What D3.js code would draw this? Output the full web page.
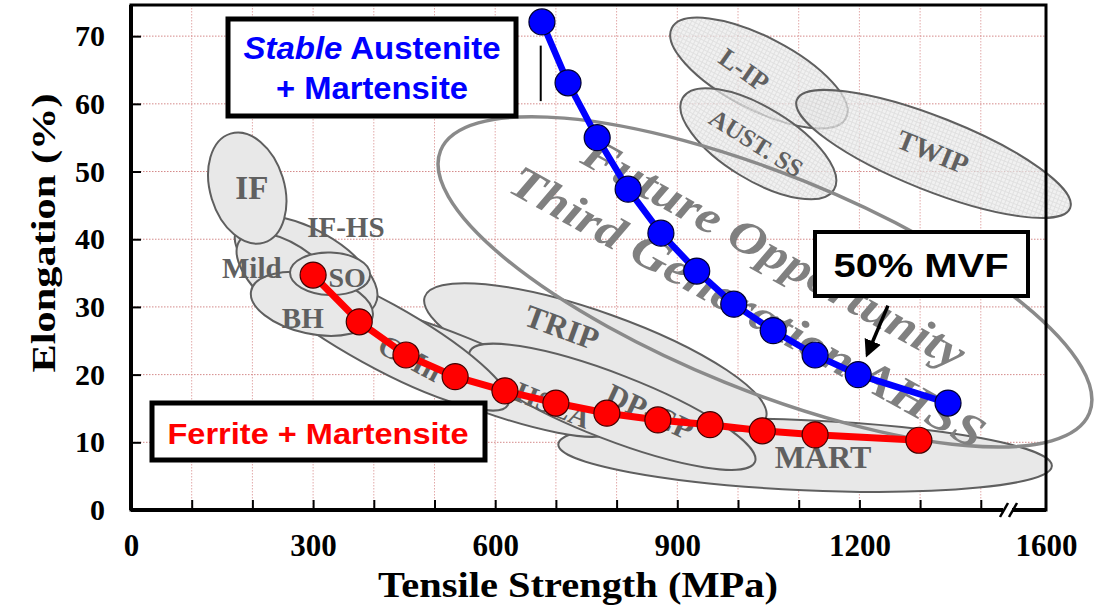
<!DOCTYPE html>
<html>
<head>
<meta charset="utf-8">
<script src="https://cdn.jsdelivr.net/npm/d3@7"></script>
<style>
  body { margin: 0; background: #fff; }
  text { font-family: "Liberation Serif", "Times New Roman", serif; }
  text.sans { font-family: "Liberation Sans", Arial, sans-serif; }
</style>
</head>
<body>
<div id="wrapper"></div>
<script>
// values: tensile strength (MPa), elongation (%)
const austeniteMpa   = [677, 720, 768, 819, 873, 932, 993, 1058, 1127, 1198, 1346];
const austeniteElong = [72.1, 63.1, 55.0, 47.4, 40.9, 35.3, 30.4, 26.5, 22.9, 20.0, 15.8];
const ferriteMpa     = [300, 376, 453, 534, 616, 700, 784, 868, 954, 1040, 1127, 1298];
const ferriteElong   = [34.7, 27.8, 22.9, 19.7, 17.6, 15.8, 14.3, 13.3, 12.6, 11.7, 11.1, 10.3];

const xTicks = [100, 200, 300, 400, 500, 600, 700, 800, 900, 1000, 1100, 1200, 1300, 1400];
const xTickLabels = [0, 300, 600, 900, 1200, 1600];
const yTicks = [0, 10, 20, 30, 40, 50, 60, 70];

// steel families: ends of the long axis (MPa, %, MPa, %) and width / length
const regionNames = ["MART", "TRIP", "HSLA", "DP-CP", "CMn", "IF-HS", "Mild", "IF", "BH", "SO"];
const regionEnds = [
  [704, 9.7, 1618, 6.5],
  [484, 31.5, 1046, 13.6],
  [278, 30.3, 792, 11.8],
  [558, 23.4, 1028, 7.1],
  [193, 36.7, 621, 15.5],
  [175, 41.7, 402, 30.3],
  [180, 39.9, 353, 27.8],
  [164, 55.6, 219, 39.5],
  [198, 32.4, 398, 28.5],
  [262, 35.1, 394, 34.7]
];
const regionRatio = [0.142, 0.25, 0.19, 0.215, 0.22, 0.47, 0.48, 0.65, 0.48, 0.53];

const austRegionNames = ["L-IP", "AUST. SS", "TWIP"];
const austRegionEnds = [
  [891, 71.2, 1178, 57.9],
  [909, 60.9, 1158, 47.3],
  [1097, 60.6, 1674, 44.6]
];
const austRegionRatio = [0.37, 0.41, 0.25];

const futureEnds = [510, 53.1, 1733, 14.3];
const futureRatio = 0.309;

// where the family names sit (MPa, %) and their tilt
const labelAt = {
  "IF": [199, 47.6, 0], "IF-HS": [354, 41.8, 0], "Mild": [199, 35.8, 0],
  "SO": [356, 34.3, 0], "BH": [283, 28.4, 0], "CMn": [460, 22.5, 28],
  "HSLA": [695, 15.5, 22], "TRIP": [710, 27.0, 20], "DP-CP": [855, 14.5, 25],
  "MART": [1140, 7.8, 0], "L-IP": [1010, 65.0, 35], "AUST. SS": [1030, 54.2, 32],
  "TWIP": [1321, 52.9, 22]
};
const labelSize = {
  "IF": 33, "IF-HS": 29, "Mild": 29, "SO": 28, "BH": 29, "CMn": 30, "HSLA": 29,
  "TRIP": 32, "DP-CP": 31, "MART": 32, "L-IP": 27, "AUST. SS": 25, "TWIP": 28
};

const width = 1104, height = 610;
const plot = { left: 131, right: 1046, top: 5, bottom: 510 };

const svg = d3.select("#wrapper").append("svg")
  .attr("width", width).attr("height", height)
  .attr("viewBox", [0, 0, width, height]);

// axis is broken after 1400
const x = d3.scaleLinear().domain([0, 1400, 1600]).range([plot.left, 980.8, plot.right]);
const y = d3.scaleLinear().domain([0, 74.6]).range([plot.bottom, plot.top]);

const defs = svg.append("defs");
const hatch = defs.append("pattern").attr("id", "hatch")
  .attr("width", 4).attr("height", 4).attr("patternUnits", "userSpaceOnUse");
hatch.append("rect").attr("width", 4).attr("height", 4).attr("fill", "#ececec");
hatch.append("path").attr("d", "M0,0.5H4M0.5,0V4").attr("stroke", "#d6d6d6").attr("stroke-width", 1);
defs.append("marker").attr("id", "arrow").attr("viewBox", "0 0 10 10")
  .attr("refX", 8).attr("refY", 5).attr("markerWidth", 5).attr("markerHeight", 5)
  .attr("orient", "auto")
  .append("path").attr("d", "M0,0L10,5L0,10Z").attr("fill", "#000");

// grid
svg.append("g").selectAll("line").data(xTicks).join("line")
  .attr("x1", d => x(d)).attr("x2", d => x(d))
  .attr("y1", plot.top).attr("y2", plot.bottom)
  .attr("stroke", "#e2a8a8").attr("stroke-width", 1).attr("stroke-dasharray", "1.5,1.5");
svg.append("g").selectAll("line").data(yTicks.slice(1)).join("line")
  .attr("x1", plot.left).attr("x2", plot.right)
  .attr("y1", d => y(d)).attr("y2", d => y(d))
  .attr("stroke", "#d48a8a").attr("stroke-width", 1).attr("stroke-dasharray", "1.5,1.5");

function ellipseOf(e, ratio) {
  const x1 = x(e[0]), y1 = y(e[1]), x2 = x(e[2]), y2 = y(e[3]);
  const a = Math.hypot(x2 - x1, y2 - y1) / 2;
  return {
    cx: (x1 + x2) / 2, cy: (y1 + y2) / 2, a: a, b: a * ratio,
    angle: Math.atan2(y2 - y1, x2 - x1) * 180 / Math.PI
  };
}

const regions = regionEnds.map((e, i) => ellipseOf(e, regionRatio[i]));
svg.append("g").selectAll("ellipse").data(regions).join("ellipse")
  .attr("transform", d => `translate(${d.cx},${d.cy}) rotate(${d.angle})`)
  .attr("rx", d => d.a).attr("ry", d => d.b)
  .attr("fill", "#e8e8e8").attr("stroke", "#5f5f5f").attr("stroke-width", 2);

const austRegions = austRegionEnds.map((e, i) => ellipseOf(e, austRegionRatio[i]));
svg.append("g").selectAll("ellipse").data(austRegions).join("ellipse")
  .attr("transform", d => `translate(${d.cx},${d.cy}) rotate(${d.angle})`)
  .attr("rx", d => d.a).attr("ry", d => d.b)
  .attr("fill", "url(#hatch)").attr("fill-opacity", 0.75)
  .attr("stroke", "#5f5f5f").attr("stroke-width", 2);

const fut = ellipseOf(futureEnds, futureRatio);
svg.append("ellipse")
  .attr("transform", `translate(${fut.cx},${fut.cy}) rotate(${fut.angle})`)
  .attr("rx", fut.a).attr("ry", fut.b)
  .attr("fill", "none").attr("stroke", "#8a8a8a").attr("stroke-width", 3.5);

// family names
svg.append("g").selectAll("text").data(Object.keys(labelAt)).join("text")
  .attr("transform", d => `translate(${x(labelAt[d][0])},${y(labelAt[d][1])}) rotate(${labelAt[d][2]})`)
  .attr("text-anchor", "middle").attr("dominant-baseline", "central")
  .attr("font-weight", "bold").attr("font-size", d => labelSize[d])
  .attr("fill", "#606060")
  .text(d => d);

// big slanted caption
const caption = svg.append("g").attr("fill", "#808080")
  .attr("font-weight", "bold").attr("font-style", "italic").attr("font-size", 46)
  .attr("text-anchor", "middle").attr("dominant-baseline", "central");
caption.append("text")
  .attr("transform", `translate(${x(1060)},${y(38.0)}) rotate(29)`)
  .attr("textLength", 430).attr("lengthAdjust", "spacingAndGlyphs")
  .text("Future Opportunity");
caption.append("text")
  .attr("transform", `translate(${x(1016)},${y(30.0)}) rotate(29)`)
  .attr("textLength", 535).attr("lengthAdjust", "spacingAndGlyphs")
  .text("Third Generation AHSS");

// stray mark next to the first point
svg.append("line")
  .attr("x1", x(675)).attr("x2", x(675)).attr("y1", y(68.6)).attr("y2", y(60.4))
  .attr("stroke", "#000").attr("stroke-width", 2);

// series
const ferrite = ferriteMpa.map((m, i) => [m, ferriteElong[i]]);
const austenite = austeniteMpa.map((m, i) => [m, austeniteElong[i]]);
const line = d3.line().x(d => x(d[0])).y(d => y(d[1]));

svg.append("path").attr("d", line(ferrite))
  .attr("fill", "none").attr("stroke", "#ff0000").attr("stroke-width", 7);
svg.append("g").selectAll("circle").data(ferrite).join("circle")
  .attr("cx", d => x(d[0])).attr("cy", d => y(d[1])).attr("r", 13)
  .attr("fill", "#ff0000").attr("stroke", "#400000").attr("stroke-width", 1.2);

svg.append("path").attr("d", line(austenite))
  .attr("fill", "none").attr("stroke", "#0000ff").attr("stroke-width", 6.5);
svg.append("g").selectAll("circle").data(austenite).join("circle")
  .attr("cx", d => x(d[0])).attr("cy", d => y(d[1])).attr("r", 13)
  .attr("fill", "#0000ff").attr("stroke", "#000030").attr("stroke-width", 1.2);

// frame and axes
svg.append("rect")
  .attr("x", plot.left).attr("y", plot.top)
  .attr("width", plot.right - plot.left).attr("height", plot.bottom - plot.top)
  .attr("fill", "none").attr("stroke", "#000").attr("stroke-width", 3);
svg.append("line").attr("x1", plot.left).attr("x2", plot.right)
  .attr("y1", plot.bottom).attr("y2", plot.bottom).attr("stroke", "#000").attr("stroke-width", 4);
svg.append("line").attr("x1", plot.left).attr("x2", plot.left)
  .attr("y1", plot.top).attr("y2", plot.bottom).attr("stroke", "#000").attr("stroke-width", 4);

const xTickG = svg.append("g").attr("transform", `translate(0,${plot.bottom})`)
  .call(d3.axisBottom(x).tickValues(xTicks).tickSize(-10).tickFormat(""));
xTickG.select(".domain").remove();
xTickG.selectAll("line").attr("stroke-width", 2);

const xLabG = svg.append("g").attr("transform", `translate(0,${plot.bottom})`)
  .call(d3.axisBottom(x).tickValues(xTickLabels).tickSize(0).tickPadding(24).tickFormat(d3.format("d")));
xLabG.select(".domain").remove();
xLabG.selectAll("text").attr("font-weight", "bold")
  .attr("font-size", 31).attr("fill", "#000");

const yAx = svg.append("g").attr("transform", `translate(${plot.left},0)`)
  .call(d3.axisLeft(y).tickValues(yTicks).tickSize(-10).tickPadding(26));
yAx.select(".domain").remove();
yAx.selectAll("line").attr("stroke-width", 2);
yAx.selectAll("text").attr("font-weight", "bold")
  .attr("font-size", 30).attr("fill", "#000");

// axis break
svg.append("rect").attr("x", 1003).attr("y", plot.bottom - 4).attr("width", 9).attr("height", 8).attr("fill", "#fff");
svg.append("g").attr("stroke", "#000").attr("stroke-width", 2.5)
  .selectAll("line").data([1000, 1009]).join("line")
  .attr("x1", d => d).attr("x2", d => d + 8)
  .attr("y1", plot.bottom + 7).attr("y2", plot.bottom - 7);

// axis titles
svg.append("text")
  .attr("transform", `translate(44,233) rotate(-90)`)
  .attr("text-anchor", "middle").attr("dominant-baseline", "central")
  .attr("font-weight", "bold").attr("font-size", 33)
  .attr("textLength", 279).attr("lengthAdjust", "spacingAndGlyphs")
  .text("Elongation (%)");
svg.append("text")
  .attr("x", 578).attr("y", 597)
  .attr("text-anchor", "middle")
  .attr("font-weight", "bold").attr("font-size", 35)
  .attr("textLength", 400).attr("lengthAdjust", "spacingAndGlyphs")
  .text("Tensile Strength (MPa)");

// legend boxes
svg.append("rect").attr("x", 228).attr("y", 19).attr("width", 288).attr("height", 97)
  .attr("fill", "#fff").attr("stroke", "#000").attr("stroke-width", 5);
const t1 = svg.append("text").attr("class", "sans").attr("x", 372).attr("y", 59).attr("text-anchor", "middle")
  .attr("font-weight", "bold").attr("font-size", 31).attr("fill", "#0000ff")
  .attr("textLength", 257).attr("lengthAdjust", "spacingAndGlyphs");
t1.append("tspan").attr("font-style", "italic").text("Stable");
t1.append("tspan").text(" Austenite");
svg.append("text").attr("class", "sans").attr("x", 372).attr("y", 99).attr("text-anchor", "middle")
  .attr("font-weight", "bold").attr("font-size", 31).attr("fill", "#0000ff")
  .attr("textLength", 192).attr("lengthAdjust", "spacingAndGlyphs")
  .text("+ Martensite");

svg.append("rect").attr("x", 152).attr("y", 403).attr("width", 333).attr("height", 57)
  .attr("fill", "#fff").attr("stroke", "#000").attr("stroke-width", 5);
svg.append("text").attr("class", "sans").attr("x", 318).attr("y", 444).attr("text-anchor", "middle")
  .attr("font-weight", "bold").attr("font-size", 30).attr("fill", "#ff0000")
  .attr("textLength", 301).attr("lengthAdjust", "spacingAndGlyphs")
  .text("Ferrite + Martensite");

svg.append("rect").attr("x", 815).attr("y", 232).attr("width", 213).attr("height", 64)
  .attr("fill", "#fff").attr("stroke", "#000").attr("stroke-width", 4);
svg.append("text").attr("class", "sans").attr("x", 921).attr("y", 277).attr("text-anchor", "middle")
  .attr("font-weight", "bold").attr("font-size", 34).attr("fill", "#000")
  .attr("textLength", 175).attr("lengthAdjust", "spacingAndGlyphs")
  .text("50% MVF");

svg.append("line")
  .attr("x1", x(1247)).attr("y1", y(30.2)).attr("x2", x(1213)).attr("y2", y(23.0))
  .attr("stroke", "#000").attr("stroke-width", 3.5).attr("marker-end", "url(#arrow)");
</script>
</body>
</html>
